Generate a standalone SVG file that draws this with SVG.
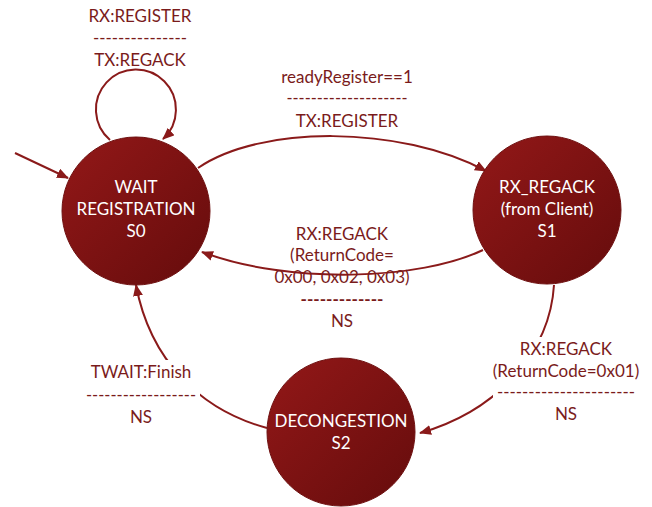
<svg xmlns="http://www.w3.org/2000/svg" width="652" height="507" viewBox="0 0 652 507">
  <style>
    .lbl { font-family: Lato, "Liberation Sans", sans-serif; font-size: 17px; fill: #7a1b1b; text-anchor: middle; }
    .st { font-family: Lato, "Liberation Sans", sans-serif; font-size: 17px; fill: #ffffff; text-anchor: middle; }
    .edge { fill: none; stroke: #8a1a1a; stroke-width: 2; }
    .state { fill: url(#stateFill); stroke: #6e0f0f; stroke-width: 1; }
    .bg { fill: #ffffff; }
  </style>
  <defs>
    <linearGradient id="stateFill" x1="0" y1="0" x2="1" y2="1">
      <stop offset="0" stop-color="#931818"/>
      <stop offset="1" stop-color="#650c0c"/>
    </linearGradient>
    <marker id="arrow" viewBox="0 0 12 10" refX="11" refY="5" markerWidth="12" markerHeight="10" markerUnits="userSpaceOnUse" orient="auto">
      <path d="M0,0 L12,5 L0,10 z" fill="#8a1a1a"/>
    </marker>
  </defs>

  <rect width="652" height="507" fill="#ffffff"/>

  <g id="connectors">
    <path id="e-init" class="edge" d="M15,153 L68,178" marker-end="url(#arrow)"/>
    <path id="e-s0-s0" class="edge" d="M110,140 A40,40 0 1,1 163,139" marker-end="url(#arrow)"/>
    <path id="e-s0-s1" class="edge" d="M198,168 C260,125 400,125 486,171" marker-end="url(#arrow)"/>
    <path id="e-s1-s0" class="edge" d="M483,250 C420,280 290,285 202,252" marker-end="url(#arrow)"/>
    <path id="e-s1-s2" class="edge" d="M554,285 C550,350 500,410 420,433" marker-end="url(#arrow)"/>
    <path id="e-s2-s0" class="edge" d="M267,428 C200,410 150,360 136,285" marker-end="url(#arrow)"/>
  </g>

  <g id="labels">
    <g id="l-s0-s0">
      <text class="lbl" x="140" y="22">RX:REGISTER</text>
      <text class="lbl" x="140" y="44" textLength="94" lengthAdjust="spacingAndGlyphs">---------------</text>
      <text class="lbl" x="140" y="66">TX:REGACK</text>
    </g>
    <g id="l-s0-s1">
      <text class="lbl" x="347" y="83">readyRegister==1</text>
      <text class="lbl" x="347" y="104" textLength="121" lengthAdjust="spacingAndGlyphs">--------------------</text>
      <text class="lbl" x="347" y="127">TX:REGISTER</text>
    </g>
    <g id="l-s1-s0">
      <text class="lbl" x="342" y="240">RX:REGACK</text>
      <text class="lbl" x="342" y="261">(ReturnCode=</text>
      <text class="lbl" x="342" y="283">0x00, 0x02, 0x03)</text>
      <text class="lbl" x="342" y="305" textLength="83" lengthAdjust="spacingAndGlyphs" font-weight="bold">-------------</text>
      <text class="lbl" x="342" y="327">NS</text>
    </g>
    <g id="l-s2-s0">
      <rect class="bg" x="82" y="360" width="118" height="70"/>
      <text class="lbl" x="141" y="378">TWAIT:Finish</text>
      <text class="lbl" x="141" y="401" textLength="110" lengthAdjust="spacingAndGlyphs">------------------</text>
      <text class="lbl" x="141" y="423">NS</text>
    </g>
    <g id="l-s1-s2">
      <rect class="bg" x="493" y="337" width="146" height="92"/>
      <text class="lbl" x="566" y="355">RX:REGACK</text>
      <text class="lbl" x="566" y="377">(ReturnCode=0x01)</text>
      <text class="lbl" x="566" y="398" textLength="138" lengthAdjust="spacingAndGlyphs">----------------------</text>
      <text class="lbl" x="566" y="420">NS</text>
    </g>
  </g>

  <g id="S0">
    <circle class="state" cx="136" cy="211" r="74"/>
    <text class="st" x="136" y="193">WAIT</text>
    <text class="st" x="136" y="215">REGISTRATION</text>
    <text class="st" x="136" y="237">S0</text>
  </g>

  <g id="S1">
    <circle class="state" cx="547" cy="210" r="74"/>
    <text class="st" x="547" y="193">RX_REGACK</text>
    <text class="st" x="547" y="215">(from Client)</text>
    <text class="st" x="547" y="237">S1</text>
  </g>

  <g id="S2">
    <circle class="state" cx="341" cy="432" r="74"/>
    <text class="st" x="341" y="427">DECONGESTION</text>
    <text class="st" x="341" y="449">S2</text>
  </g>
</svg>
